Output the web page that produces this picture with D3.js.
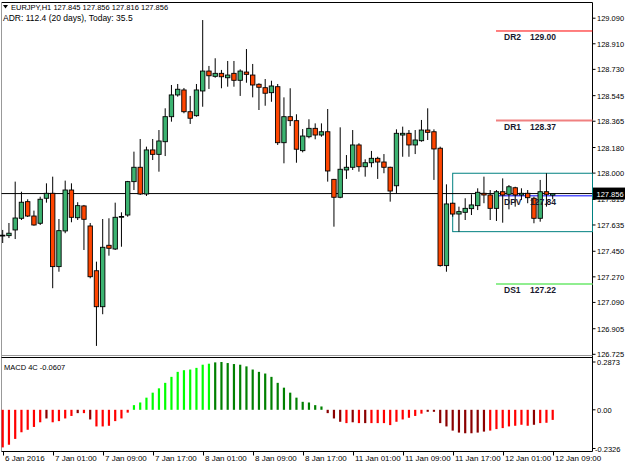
<!DOCTYPE html>
<html>
<head>
<meta charset="utf-8">
<script src="https://cdn.jsdelivr.net/npm/d3@7"></script>
<style>
body { margin: 0; background: #fff; }
svg { display: block; font-family: "Liberation Sans", Arial, sans-serif; }
</style>
</head>
<body>
<svg id="chart" width="625" height="469"></svg>
<script>
// EURJPY H1 bars, 6 Jan 17:00 .. 12 Jan 09:00
var opens = [127.559,127.560,127.600,127.682,127.799,127.698,127.647,127.823,127.858,127.342,
	127.593,127.881,127.686,127.769,127.628,127.313,127.060,127.492,127.466,127.692,
	127.705,127.940,128.041,127.853,128.163,128.132,128.221,128.397,128.550,128.585,
	128.432,128.404,128.578,128.718,128.681,128.702,128.671,128.702,128.653,128.711,
	128.690,128.625,128.601,128.566,128.608,128.214,128.397,128.369,128.158,128.256,
	128.315,128.268,128.291,127.956,127.830,128.022,128.041,128.198,128.045,128.073,
	128.104,128.078,128.041,127.911,128.268,128.280,128.198,128.228,128.303,128.291,
	128.175,127.349,127.788,127.712,127.724,127.750,127.771,127.858,127.846,127.752,
	127.869,127.851,127.897,127.846,127.858,127.823,127.682,127.869,127.845];
var highs = [127.600,127.649,127.940,127.869,127.816,127.736,127.834,127.928,127.975,127.677,
	127.947,127.928,127.795,127.776,127.649,127.377,127.677,127.682,127.792,127.724,
	127.945,128.151,128.240,128.186,128.240,128.303,128.456,128.620,128.627,128.599,
	128.543,128.627,129.077,128.754,128.808,128.726,128.789,128.789,128.730,128.873,
	128.768,128.632,128.662,128.650,128.627,128.533,128.597,128.414,128.310,128.379,
	128.350,128.350,128.451,127.959,128.322,128.127,128.303,128.210,128.097,128.156,
	128.115,128.134,128.045,128.308,128.327,128.303,128.303,128.374,128.456,128.308,
	128.186,127.921,127.792,127.764,127.823,127.851,127.893,127.975,127.881,127.881,
	127.963,127.916,127.904,127.893,127.881,127.834,127.952,127.999,127.856];
var lows = [127.508,127.543,127.536,127.670,127.691,127.630,127.635,127.792,127.190,127.306,
	127.577,127.654,127.670,127.459,127.260,126.784,127.007,127.419,127.459,127.482,
	127.693,127.881,127.846,127.839,128.092,128.010,128.120,128.362,128.538,128.421,
	128.346,128.397,128.467,128.592,128.671,128.597,128.608,128.608,128.543,128.636,
	128.533,128.444,128.474,128.502,128.198,128.069,128.331,128.073,128.146,128.245,
	128.238,128.256,127.940,127.623,127.823,127.959,128.022,128.010,127.975,128.041,
	127.959,127.999,127.799,127.858,128.115,128.115,128.134,128.221,128.233,127.952,
	127.342,127.306,127.693,127.588,127.670,127.705,127.740,127.788,127.670,127.663,
	127.651,127.745,127.764,127.811,127.788,127.647,127.658,127.764,127.816];
var closes = [127.563,127.577,127.684,127.795,127.698,127.635,127.816,127.858,127.342,127.595,
	127.881,127.689,127.771,127.675,127.271,127.060,127.478,127.471,127.689,127.695,
	127.940,128.041,127.853,128.163,128.132,128.226,128.397,128.550,128.590,128.432,
	128.386,128.585,128.718,128.685,128.702,128.678,128.690,128.653,128.718,128.695,
	128.620,128.604,128.562,128.613,128.214,128.397,128.369,128.168,128.261,128.315,
	128.268,128.291,128.015,127.830,128.027,128.041,128.198,128.045,128.073,128.104,
	128.078,128.041,127.874,128.280,128.280,128.198,128.233,128.303,128.287,128.170,
	127.349,127.783,127.712,127.729,127.752,127.776,127.865,127.846,127.752,127.869,
	127.846,127.904,127.846,127.858,127.827,127.682,127.869,127.851,127.856];

// MACD 4C histogram and its colour state per bar (L lime, G green, R red, M maroon)
var macd = [-0.226,-0.21,-0.175,-0.135,-0.12,-0.103,-0.075,-0.052,-0.075,-0.068,
	-0.052,-0.037,-0.02,-0.02,-0.058,-0.1,-0.1,-0.096,-0.068,-0.052,
	-0.017,0.028,0.044,0.073,0.103,0.129,0.162,0.198,0.228,0.238,
	0.242,0.252,0.271,0.277,0.285,0.2873,0.281,0.275,0.271,0.261,
	0.242,0.228,0.218,0.198,0.162,0.133,0.103,0.073,0.048,0.044,
	0.028,0.02,-0.02,-0.052,-0.072,-0.08,-0.075,-0.08,-0.08,-0.08,
	-0.08,-0.08,-0.092,-0.072,-0.058,-0.048,-0.037,-0.023,-0.012,-0.012,
	-0.08,-0.1,-0.125,-0.137,-0.141,-0.141,-0.137,-0.131,-0.125,-0.116,
	-0.11,-0.1,-0.096,-0.09,-0.096,-0.09,-0.08,-0.078,-0.0607];
var macdState = ('RRRRRRRMRRRRMRMRRRRRR' + 'LLLLLLLLLLLLL' + 'GGGGGGGGGGGGGGGGGG' +
	'MMMRMRMRRRRRRRRRMMMMMMMMMMRRRRRRRMRRR').split('');

var timeLabels = ['6 Jan 2016','7 Jan 01:00','7 Jan 09:00','7 Jan 17:00','8 Jan 01:00','8 Jan 09:00',
	'8 Jan 17:00','11 Jan 01:00','11 Jan 09:00','11 Jan 17:00','12 Jan 01:00','12 Jan 09:00'];
var priceTicks = ['129.090','128.910','128.730','128.545','128.365','128.180','128.000',
	'127.815','127.635','127.450','127.270','127.090','126.905','126.725'];
var macdTicks = ['0.2873','0.00','-0.2326'];

var pivotNames = ['DR2','DR1','DPV','DS1'];
var pivotValues = [129.00, 128.37, 127.84, 127.22];
var pivotColors = ['#ff0000','#f08080','#0000ff','#90ee90'];
var pivotWidths = [1, 2, 1, 2];

var boxFrom = 72; // session box start bar

var svg = d3.select('#chart');
var n = closes.length;
var left = 1.5, right = 592.5;

var x = d3.scaleLinear().domain([0, n - 1]).range([2.7, 552.7]);
var y = d3.scaleLinear().domain([126.725, 129.090]).range([354.3, 18.2]);
var ym = d3.scaleLinear().domain([-0.2326, 0.2873]).range([448.5, 362]);

var bars = d3.range(n).map(function(i) {
	return {i: i, o: opens[i], h: highs[i], l: lows[i], c: closes[i]};
});

/* frames */
svg.append('line').attr('x1', left).attr('x2', right).attr('y1', 2.5).attr('y2', 2.5).attr('stroke', '#000');
svg.append('line').attr('x1', left).attr('x2', left).attr('y1', 2.5).attr('y2', 451.5).attr('stroke', '#999');
svg.append('line').attr('x1', right).attr('x2', right).attr('y1', 2.5).attr('y2', 451.5).attr('stroke', '#000');
svg.append('line').attr('x1', left).attr('x2', right).attr('y1', 355.5).attr('y2', 355.5).attr('stroke', '#999');
svg.append('line').attr('x1', left).attr('x2', right).attr('y1', 357.5).attr('y2', 357.5).attr('stroke', '#000');
svg.append('line').attr('x1', left).attr('x2', right).attr('y1', 451.5).attr('y2', 451.5).attr('stroke', '#000');

/* pivot lines */
pivotValues.forEach(function(v, k) {
	svg.append('line')
		.attr('x1', 496).attr('x2', right)
		.attr('y1', y(v)).attr('y2', y(v))
		.attr('stroke', pivotColors[k]).attr('stroke-width', pivotWidths[k]);
});

/* session box */
var boxHigh = d3.max(highs.slice(boxFrom)), boxLow = d3.min(lows.slice(boxFrom));
svg.append('rect')
	.attr('x', x(boxFrom)).attr('y', y(boxHigh))
	.attr('width', right - x(boxFrom)).attr('height', y(boxLow) - y(boxHigh))
	.attr('fill', 'none').attr('stroke', '#008080');

/* bid line */
svg.append('line')
	.attr('x1', left).attr('x2', right)
	.attr('y1', y(closes[n - 1])).attr('y2', y(closes[n - 1]))
	.attr('stroke', '#000');

/* candles */
var g = svg.append('g');
g.selectAll('.wick').data(bars).enter().append('line')
	.attr('class', 'wick')
	.attr('x1', function(d) { return x(d.i); })
	.attr('x2', function(d) { return x(d.i); })
	.attr('y1', function(d) { return y(d.h); })
	.attr('y2', function(d) { return y(d.l); })
	.attr('stroke', '#000').attr('stroke-width', 1);
g.selectAll('.body').data(bars).enter().append('rect')
	.attr('class', 'body')
	.attr('x', function(d) { return x(d.i) - 2.2; })
	.attr('width', 4.4)
	.attr('y', function(d) { return y(Math.max(d.o, d.c)); })
	.attr('height', function(d) { return Math.max(0.8, Math.abs(y(d.o) - y(d.c))); })
	.attr('fill', function(d) { return d.c >= d.o ? '#3cb371' : '#ff4500'; })
	.attr('stroke', '#000').attr('stroke-width', 0.9);

/* pivot labels */
pivotValues.forEach(function(v, k) {
	var t = svg.append('text')
		.attr('x', 504).attr('y', y(v) + 9)
		.attr('font-size', 8.5).attr('font-weight', 'bold').attr('fill', '#1a1a2e');
	t.append('tspan').text(pivotNames[k]);
	t.append('tspan').attr('x', 530).text(v.toFixed(2));
});

/* price axis */
var bidY = y(closes[n - 1]);
svg.append('clipPath').attr('id', 'under-bid')
	.append('rect').attr('x', 593).attr('y', bidY + 6).attr('width', 32).attr('height', 20);
priceTicks.forEach(function(s) {
	var yy = y(+s);
	var hidden = Math.abs(yy - bidY) < 10;
	svg.append('line').attr('x1', right).attr('x2', right + 3).attr('y1', yy).attr('y2', yy).attr('stroke', '#000');
	svg.append('text').attr('x', 597).attr('y', yy + 3).attr('font-size', 7.5).attr('fill', '#000')
		.attr('clip-path', hidden ? 'url(#under-bid)' : null)
		.text(s);
});
svg.append('rect').attr('x', 593).attr('y', bidY - 6).attr('width', 32).attr('height', 12).attr('fill', '#000');
svg.append('text').attr('x', 596.5).attr('y', bidY + 3).attr('font-size', 7.5).attr('fill', '#fff')
	.text(closes[n - 1].toFixed(3));

/* header */
svg.append('path').attr('d', 'M3,5 L8,5 L5.5,8.5 Z').attr('fill', '#000');
svg.append('text').attr('x', 11).attr('y', 9.5).attr('font-size', 7.5).attr('fill', '#000')
	.text('EURJPY,H1  ' + [opens[n - 1], highs[n - 1], lows[n - 1], closes[n - 1]].map(function(v) { return v.toFixed(3); }).join(' '));
svg.append('text').attr('x', 3).attr('y', 20.5).attr('font-size', 8.5).attr('fill', '#000')
	.text('ADR: 112.4 (20 days), Today: 35.5');

/* MACD */
var mg = svg.append('g');
var stateColor = {L: '#00ff00', G: '#008000', R: '#ff0000', M: '#8b0000'};
mg.selectAll('rect').data(macd).enter().append('rect')
	.attr('x', function(d, i) { return x(i) - 1.1; })
	.attr('width', 2.2)
	.attr('y', function(d) { return Math.min(ym(d), ym(0)); })
	.attr('height', function(d) { return Math.abs(ym(d) - ym(0)); })
	.attr('fill', function(d, i) { return stateColor[macdState[i]]; });

svg.append('text').attr('x', 4).attr('y', 369.5).attr('font-size', 7.5).attr('fill', '#000')
	.text('MACD 4C ' + macd[n - 1].toFixed(4));

macdTicks.forEach(function(s, k) {
	var yy = ym(+s);
	svg.append('line').attr('x1', right).attr('x2', right + 3).attr('y1', yy).attr('y2', yy).attr('stroke', '#000');
	svg.append('text').attr('x', +s < 0 ? 595 : 597).attr('y', yy + 3).attr('font-size', 7.5).attr('fill', '#000').text(s);
});

/* time axis */
timeLabels.forEach(function(s, k) {
	var xx = Math.round(x(k * 8)) + 0.5;
	svg.append('line').attr('x1', xx).attr('x2', xx).attr('y1', 451.5).attr('y2', 455.5).attr('stroke', '#000');
	svg.append('text').attr('x', xx + 1.5).attr('y', 460.5).attr('font-size', 8).attr('fill', '#000').text(s);
});
</script>
</body>
</html>
